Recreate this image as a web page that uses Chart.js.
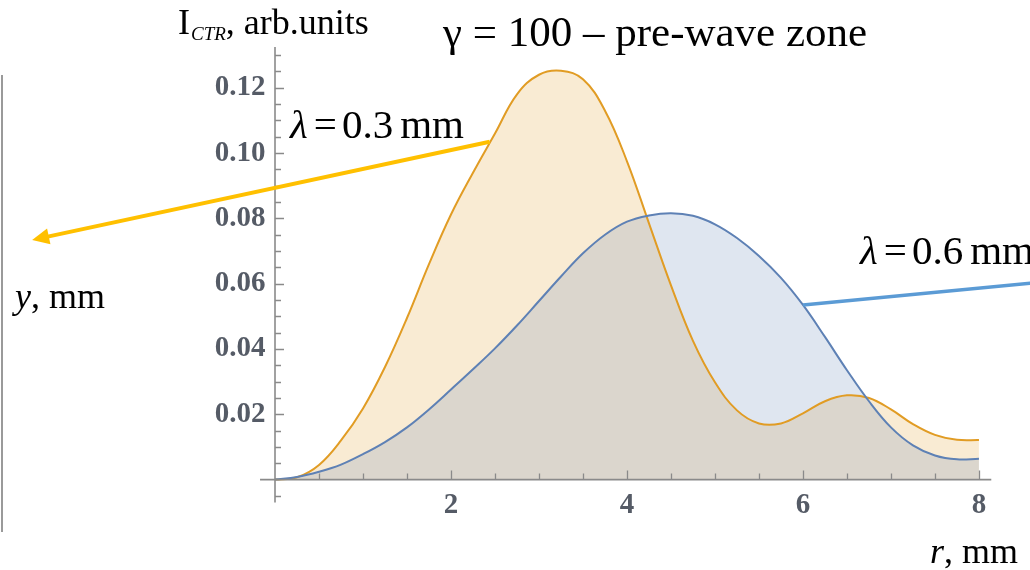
<!DOCTYPE html>
<html>
<head>
<meta charset="utf-8">
<title>CTR intensity, pre-wave zone</title>
<script src="https://cdn.jsdelivr.net/npm/chart.js@4"></script>
<style>
  html, body { margin: 0; padding: 0; background: #fff; }
  #wrap { position: relative; width: 1030px; height: 570px; }
</style>
</head>
<body>
<div id="wrap"><canvas id="ctr-chart" width="1030" height="570"></canvas></div>
<script>
// radial coordinate r, mm
const rValues = [0, 0.25, 0.5, 0.75, 1, 1.25, 1.5, 1.75, 2, 2.25, 2.5, 2.75, 3, 3.25, 3.5, 3.75,
                 4, 4.25, 4.5, 4.75, 5, 5.25, 5.5, 5.75, 6, 6.25, 6.5, 6.75, 7, 7.25, 7.5, 7.75, 8];

// I_CTR for lambda = 0.3 mm
const intensity03 = [0, 0.0007, 0.0045, 0.0120, 0.0218, 0.0345, 0.0495, 0.0660, 0.0812, 0.0940,
                     0.1060, 0.1180, 0.1240, 0.1252, 0.1226, 0.1130, 0.0975, 0.0785, 0.0595, 0.0425,
                     0.0298, 0.0212, 0.0172, 0.0172, 0.0203, 0.0240, 0.0258, 0.0250, 0.0215, 0.0170,
                     0.0137, 0.0122, 0.0121];

// I_CTR for lambda = 0.6 mm
const intensity06 = [0, 0.0008, 0.0024, 0.0046, 0.0078, 0.0115, 0.0160, 0.0215, 0.0276, 0.0338,
                     0.0402, 0.0472, 0.0547, 0.0622, 0.0693, 0.0750, 0.0790, 0.0809, 0.0816, 0.0808,
                     0.0782, 0.0740, 0.0685, 0.0618, 0.0535, 0.0437, 0.0335, 0.0240, 0.0160, 0.0105,
                     0.0074, 0.0062, 0.0064];

const xTickLabels = [2, 4, 6, 8];
const yTickLabels = [0.02, 0.04, 0.06, 0.08, 0.10, 0.12];
const xMinorStep = 0.5;
const yMinorStep = 0.005;

// where the two pointer lines touch the curves, and where they end (data units)
const pointer03 = { from: [2.44, 0.1035], to: [-2.76, 0.0734] };
const pointer06 = { from: [6.0, 0.0535], to: [8.6, 0.0602] };

const ORANGE = '#e19c24';
const BLUE = '#5e81b5';
const AXIS_GREY = '#8a8a8a';
const SERIF = '"Liberation Serif", "DejaVu Serif", serif';

const toPoints = (ys) => ys.map((y, i) => ({ x: rValues[i], y }));

// Mathematica-style axes crossing at the origin, ticks pointing inwards
const originAxes = {
  id: 'originAxes',
  afterDatasetsDraw(chart) {
    const { ctx, scales: { x, y } } = chart;
    const x0 = x.getPixelForValue(0);
    const y0 = y.getPixelForValue(0);
    ctx.save();
    ctx.strokeStyle = AXIS_GREY;
    ctx.lineWidth = 1.6;
    ctx.beginPath();
    ctx.moveTo(x.getPixelForValue(-0.17), y0);
    ctx.lineTo(x.getPixelForValue(8.14), y0);
    ctx.moveTo(x0, y.getPixelForValue(-0.007));
    ctx.lineTo(x0, y.getPixelForValue(0.1325));
    ctx.stroke();

    ctx.lineWidth = 1.3;
    ctx.beginPath();
    for (let k = 1; k * xMinorStep <= 8 + 1e-9; k++) {
      const v = k * xMinorStep;
      const major = xTickLabels.some(t => Math.abs(t - v) < 1e-9);
      const px = Math.round(x.getPixelForValue(v)) + 0.5;
      ctx.moveTo(px, y0);
      ctx.lineTo(px, y0 - (major ? 9 : 6));
    }
    for (let k = -1; k * yMinorStep <= 0.1301; k++) {
      if (k === 0) continue;
      const v = k * yMinorStep;
      const major = yTickLabels.some(t => Math.abs(t - v) < 1e-9);
      const py = Math.round(y.getPixelForValue(v)) + 0.5;
      ctx.moveTo(x0, py);
      ctx.lineTo(x0 + (major ? 9 : 6), py);
    }
    ctx.stroke();
    ctx.restore();
  }
};

// draws a row of text pieces: [text, font, gap after, baseline shift]
function textRun(ctx, pieces, lx, ly) {
  let cx = lx;
  for (const [txt, font, gap, dy] of pieces) {
    ctx.font = font;
    ctx.fillText(txt, cx, ly + (dy || 0));
    cx += ctx.measureText(txt).width + (gap || 0);
  }
}

// captions, pointer lines and the arrow
const captions = {
  id: 'captions',
  afterDraw(chart) {
    const { ctx, scales: { x, y } } = chart;
    const P = ([r, v]) => [x.getPixelForValue(r), y.getPixelForValue(v)];
    ctx.save();

    // edge of the neighbouring panel
    ctx.strokeStyle = '#9a9a9a';
    ctx.lineWidth = 2;
    ctx.beginPath();
    ctx.moveTo(2, 75);
    ctx.lineTo(2, 532);
    ctx.stroke();

    // yellow arrow from the 0.3 mm curve
    const [ax1, ay1] = P(pointer03.from);
    const [ax2, ay2] = P(pointer03.to);
    const ang = Math.atan2(ay2 - ay1, ax2 - ax1);
    const c = Math.cos(ang), s = Math.sin(ang);
    ctx.strokeStyle = '#ffc000';
    ctx.fillStyle = '#ffc000';
    ctx.lineWidth = 4;
    ctx.beginPath();
    ctx.moveTo(ax1, ay1);
    ctx.lineTo(ax2 - 10 * c, ay2 - 10 * s);
    ctx.stroke();
    ctx.beginPath();
    ctx.moveTo(ax2, ay2);
    ctx.lineTo(ax2 - 17 * c + 8 * s, ay2 - 17 * s - 8 * c);
    ctx.lineTo(ax2 - 17 * c - 8 * s, ay2 - 17 * s + 8 * c);
    ctx.closePath();
    ctx.fill();

    // blue pointer from the 0.6 mm curve
    const [bx1, by1] = P(pointer06.from);
    const [bx2, by2] = P(pointer06.to);
    ctx.strokeStyle = '#5b9bd5';
    ctx.lineWidth = 3.5;
    ctx.beginPath();
    ctx.moveTo(bx1, by1);
    ctx.lineTo(bx2, by2);
    ctx.stroke();

    ctx.fillStyle = '#000';
    ctx.textBaseline = 'alphabetic';
    ctx.textAlign = 'left';

    // title
    textRun(ctx, [['γ = 100 – pre-wave zone', `43px ${SERIF}`]], 443, 46);

    // y axis caption: I_CTR, arb.units
    textRun(ctx, [
      ['I', `36px ${SERIF}`, 1],
      ['CTR', `italic 19px ${SERIF}`, 0, 6],
      [', arb.units', `36px ${SERIF}`]
    ], 178, 34);

    // lambda labels
    const lambdaLabel = (val, lx, ly) => textRun(ctx, [
      ['λ', `italic 41px ${SERIF}`, 6],
      ['=', `41px ${SERIF}`, 5],
      [val, `41px ${SERIF}`, 7],
      ['mm', `41px ${SERIF}`]
    ], lx, ly);
    lambdaLabel('0.3', 290, 138);
    lambdaLabel('0.6', 860, 264);

    // axis captions with an italic symbol
    const axisCaption = (sym, lx, ly) => textRun(ctx, [
      [sym, `italic 36px ${SERIF}`],
      [', mm', `36px ${SERIF}`]
    ], lx, ly);
    axisCaption('y', 15, 308);
    axisCaption('r', 930, 563);

    ctx.restore();
  }
};

new Chart(document.getElementById('ctr-chart'), {
  type: 'line',
  data: {
    datasets: [
      {
        label: 'λ = 0.6 mm',
        data: toPoints(intensity06),
        borderColor: BLUE,
        backgroundColor: 'rgba(94,129,181,0.2)',
        borderWidth: 2,
        fill: 'origin',
        pointRadius: 0,
        tension: 0.4
      },
      {
        label: 'λ = 0.3 mm',
        data: toPoints(intensity03),
        borderColor: ORANGE,
        backgroundColor: 'rgba(225,156,36,0.2)',
        borderWidth: 2,
        fill: 'origin',
        pointRadius: 0,
        tension: 0.4
      }
    ]
  },
  options: {
    responsive: false,
    animation: false,
    layout: { padding: { top: 47, right: 39.6, left: 0, bottom: 0 } },
    plugins: {
      legend: { display: false },
      tooltip: { enabled: false },
      filler: { drawTime: 'beforeDatasetsDraw' }
    },
    scales: {
      x: {
        type: 'linear',
        min: -0.05,
        max: 8.13,
        border: { display: false },
        grid: { display: false, drawTicks: false },
        afterBuildTicks: (s) => { s.ticks = xTickLabels.map(v => ({ value: v })); },
        afterFit: (s) => { s.height = 79.95; },
        ticks: {
          padding: -2,
          color: '#555b66',
          font: { family: SERIF, size: 29, weight: 'bold' },
          callback: (v) => String(v)
        }
      },
      y: {
        type: 'linear',
        min: -0.0032,
        max: 0.1325,
        border: { display: false },
        grid: { display: false, drawTicks: false },
        afterBuildTicks: (s) => { s.ticks = yTickLabels.map(v => ({ value: v })); },
        afterFit: (s) => { s.width = 270.6; },
        ticks: {
          padding: 5,
          color: '#555b66',
          font: { family: SERIF, size: 29, weight: 'bold' },
          callback: (v) => v.toFixed(2)
        }
      }
    }
  },
  plugins: [originAxes, captions]
});
</script>
</body>
</html>
